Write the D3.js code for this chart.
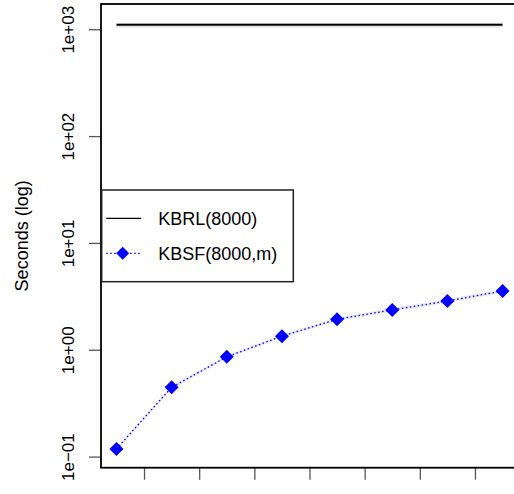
<!DOCTYPE html>
<html>
<head>
<meta charset="utf-8">
<script src="https://cdn.jsdelivr.net/npm/d3@7"></script>
<style>
  body { margin: 0; background: #fff; }
  svg { display: block; font-family: "Liberation Sans", Arial, sans-serif; }
</style>
</head>
<body>
<div id="chart"></div>
<script>
// m values (x positions of the points)
var mValues = [1, 2, 3, 4, 5, 6, 7, 8];

// KBRL(8000) run time, with its band
var kbrlTime  = [1104, 1104, 1104, 1104, 1104, 1104, 1104, 1104];
var kbrlLower = [1030, 1030, 1030, 1030, 1030, 1030, 1030, 1030];
var kbrlUpper = [1150, 1150, 1150, 1150, 1150, 1150, 1150, 1150];

// KBSF(8000,m) run time, with its band
var kbsfTime  = [0.118, 0.445, 0.859, 1.34, 1.93, 2.36, 2.86, 3.55];
var kbsfLower = [0.114, 0.43, 0.83, 1.29, 1.86, 2.27, 2.75, 3.42];
var kbsfUpper = [0.122, 0.46, 0.89, 1.39, 2.0, 2.45, 2.97, 3.68];

// axis ticks
var xTicks = [1.5, 2.5, 3.5, 4.5, 5.5, 6.5, 7.5, 8.5];
var yTicks = [0.1, 1, 10, 100, 1000];
var yTickLabels = ["1e\u221201", "1e+00", "1e+01", "1e+02", "1e+03"];

var seriesNames = ["KBRL(8000)", "KBSF(8000,m)"];

var plotVariables = {
    width: 514,
    height: 494,
    left: 101,
    right: 518,
    top: 4,
    bottom: 467.7,
    tickLen: 12
};

var svg = d3.select('#chart').append('svg')
    .attr('width', plotVariables.width)
    .attr('height', plotVariables.height);

// x scale: R style 4% padding on both sides
var xPad = (d3.max(mValues) - d3.min(mValues)) * 0.04;
var x = d3.scaleLinear()
    .domain([d3.min(mValues) - xPad, d3.max(mValues) + xPad])
    .range([plotVariables.left, plotVariables.right]);

// y scale: log, padded 4% in log space
var logMin = Math.log10(d3.min(kbsfLower));
var logMax = Math.log10(d3.max(kbrlUpper.concat([1190])));
var logPad = (logMax - logMin) * 0.04;
var y = d3.scaleLog()
    .domain([Math.pow(10, logMin - logPad), Math.pow(10, logMax + logPad)])
    .range([plotVariables.bottom, plotVariables.top]);

var kbrlData = mValues.map((m, i) => ({m: m, v: kbrlTime[i], lo: kbrlLower[i], hi: kbrlUpper[i]}));
var kbsfData = mValues.map((m, i) => ({m: m, v: kbsfTime[i], lo: kbsfLower[i], hi: kbsfUpper[i]}));

var band = d3.area()
    .x(d => x(d.m))
    .y0(d => y(d.lo))
    .y1(d => y(d.hi));

var line = d3.line()
    .x(d => x(d.m))
    .y(d => y(d.v));

// bands
svg.append('path').datum(kbrlData)
    .attr('d', band)
    .attr('fill', '#e8e8e8');
svg.append('path').datum(kbsfData)
    .attr('d', band)
    .attr('fill', '#e8e8e8');

// KBRL line
svg.append('path').datum(kbrlData)
    .attr('d', line)
    .attr('fill', 'none')
    .attr('stroke', '#000')
    .attr('stroke-width', 2);

// KBSF dotted line + diamonds
svg.append('path').datum(kbsfData)
    .attr('d', line)
    .attr('fill', 'none')
    .attr('stroke', '#0000ff')
    .attr('stroke-width', 1.3)
    .attr('stroke-dasharray', '1.5,2.5');

var diamond = 'M0,-7L7,0L0,7L-7,0Z';
svg.append('g')
    .selectAll('path')
    .data(kbsfData)
    .join('path')
    .attr('d', diamond)
    .attr('transform', d => `translate(${x(d.m)},${y(d.v)})`)
    .attr('fill', '#0000ff');

// y axis
var yAxis = svg.append('g')
    .attr('transform', `translate(${plotVariables.left},0)`)
    .call(d3.axisLeft(y)
        .tickValues(yTicks)
        .tickSize(plotVariables.tickLen)
        .tickFormat((d, i) => yTickLabels[i]));
yAxis.select('.domain').remove();
yAxis.selectAll('.tick line').attr('stroke', '#555').attr('stroke-width', 1.3);
yAxis.selectAll('.tick text')
    .attr('transform', 'rotate(-90)')
    .attr('x', 0)
    .attr('y', -27)
    .attr('dy', 0)
    .attr('text-anchor', 'middle')
    .attr('font-size', '17px')
    .attr('font-family', 'Liberation Sans, Arial, sans-serif')
    .attr('fill', '#000');

// x axis (labels fall below the picture)
var xAxis = svg.append('g')
    .attr('transform', `translate(0,${plotVariables.bottom})`)
    .call(d3.axisBottom(x)
        .tickValues(xTicks)
        .tickSize(plotVariables.tickLen)
        .tickFormat(''));
xAxis.select('.domain').remove();
xAxis.selectAll('.tick line').attr('stroke', '#555').attr('stroke-width', 1.3);

// plot box
svg.append('rect')
    .attr('x', plotVariables.left)
    .attr('y', plotVariables.top)
    .attr('width', plotVariables.right - plotVariables.left)
    .attr('height', plotVariables.bottom - plotVariables.top)
    .attr('fill', 'none')
    .attr('stroke', '#000')
    .attr('stroke-width', 1.8);

// y axis title
svg.append('text')
    .attr('transform', `translate(28,${(plotVariables.top + plotVariables.bottom) / 2}) rotate(-90)`)
    .attr('text-anchor', 'middle')
    .attr('font-size', '18px')
    .text('Seconds (log)');

// legend
var legendGroup = svg.append('g')
    .attr('transform', `translate(${plotVariables.left + 0.7},190)`);

legendGroup.append('rect')
    .attr('width', 191.6)
    .attr('height', 91.7)
    .attr('fill', '#fff')
    .attr('stroke', '#222')
    .attr('stroke-width', 1.5);

var legendRows = [
    {name: seriesNames[0], y: 28.3},
    {name: seriesNames[1], y: 63.3}
];

legendGroup.append('line')
    .attr('x1', 4.5).attr('x2', 39.5)
    .attr('y1', legendRows[0].y).attr('y2', legendRows[0].y)
    .attr('stroke', '#000')
    .attr('stroke-width', 1.3);

legendGroup.append('line')
    .attr('x1', 4.5).attr('x2', 39.5)
    .attr('y1', legendRows[1].y).attr('y2', legendRows[1].y)
    .attr('stroke', '#0000ff')
    .attr('stroke-width', 1.3)
    .attr('stroke-dasharray', '1.5,2.5');

legendGroup.append('path')
    .attr('d', 'M0,-6.5L6.5,0L0,6.5L-6.5,0Z')
    .attr('transform', `translate(21,${legendRows[1].y})`)
    .attr('fill', '#0000ff');

legendGroup.selectAll('text.legend')
    .data(legendRows)
    .join('text')
    .attr('class', 'legend')
    .attr('x', 56.5)
    .attr('y', d => d.y)
    .attr('dy', '0.35em')
    .attr('font-size', '18px')
    .text(d => d.name);
</script>
</body>
</html>
